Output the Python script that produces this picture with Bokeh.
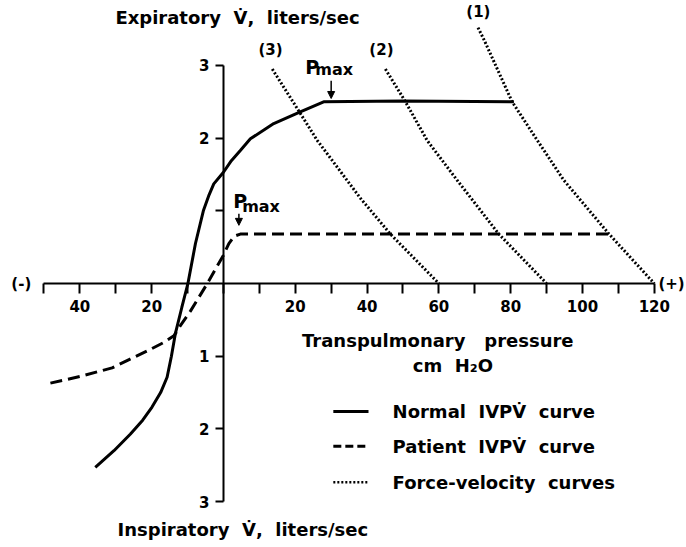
from bokeh.plotting import figure
from bokeh.models import Range1d, LinearAxis, FixedTicker, Arrow, NormalHead, ColumnDataSource
from bokeh.core.properties import value
from bokeh.embed import file_html
from bokeh.resources import INLINE

# ---------------- data (pressure cm H2O, flow l/s; expiratory +) ----------------
normal_p = [-35.7, -30.5, -25.9, -22.5, -19.9, -17.5, -15.7, -14.5, -13.4, -11.6, -9.9, -7.8, -5.6, -4.0,
            -2.7, 0.0, 2.2, 4.7, 7.5, 14.0, 21.4, 27.9, 50.0, 80.9]
normal_v = [-2.53, -2.30, -2.07, -1.88, -1.70, -1.50, -1.29, -1.00, -0.69, -0.33, 0.0, 0.55, 1.00, 1.22,
            1.37, 1.53, 1.69, 1.83, 1.99, 2.20, 2.36, 2.50, 2.51, 2.50]

patient_p = [-48.2, -40.0, -31.0, -26.0, -21.3, -16.6, -13.8, -12.0, -9.2, -4.5, 0.0, 1.5, 3.0, 4.7, 107.4]
patient_v = [-1.37, -1.28, -1.16, -1.04, -0.93, -0.81, -0.72, -0.58, -0.38, 0.0, 0.39, 0.55, 0.65, 0.68, 0.68]

fv1_p = [70.9, 72.7, 80.4, 87.4, 94.8, 107.4, 120.0]
fv1_v = [3.52, 3.34, 2.50, 1.97, 1.42, 0.68, 0.0]
fv2_p = [45.1, 50.7, 56.7, 65.1, 76.7, 90.0]
fv2_v = [2.95, 2.50, 1.97, 1.42, 0.68, 0.0]
fv3_p = [13.6, 20.9, 26.1, 38.2, 46.5, 60.0]
fv3_v = [2.95, 2.38, 1.97, 1.17, 0.68, 0.0]

x_ticks = list(range(-50, 121, 10))
x_tick_labels = {-40: "40", -20: "20", 20: "20", 40: "40", 60: "60", 80: "80", 100: "100", 120: "120"}
y_ticks = [-3, -2, -1, 1, 2, 3]
y_tick_labels = ["3", "2", "1", "", "2", "3"]

curve_labels = ["(1)", "(2)", "(3)"]
curve_label_p = [71.0, 44.0, 13.1]
curve_label_v = [3.74, 3.21, 3.21]

pmax_p_letter = [22.8, 2.7]
pmax_sub_p = [25.6, 5.2]
pmax_letter_v = [2.975, 1.135]
pmax_sub_v = [2.937, 1.053]
pmax_arrow_p = [30.0, 4.3]
pmax_arrow_from = [2.79, 0.96]
pmax_arrow_to = [2.545, 0.80]

NB = "\u00a0"
legend_names = ["Normal" + NB * 2 + "IVPV\u0307" + NB * 2 + "curve",
                "Patient" + NB * 2 + "IVPV\u0307" + NB * 2 + "curve",
                "Force-velocity" + NB * 2 + "curves"]
legend_line_p0 = [30.6, 30.6, 30.6]
legend_line_p1 = [40.4, 40.4, 40.4]
legend_line_v = [-1.761, -2.238, -2.733]
legend_text_p = [47.1, 47.1, 47.1]
legend_text_v = [-1.767, -2.245, -2.74]

FONT = value("DejaVu Sans")

# the canvas starts at the page's top-left corner
p = figure(width=686, height=541, x_range=Range1d(-62.1, 128.97), y_range=Range1d(-3.549, 3.893),
           output_backend="svg", toolbar_location=None, x_axis_location=None, y_axis_location=None,
           min_border=0, outline_line_color=None, background_fill_color="white",
           border_fill_color="white")
p.grid.visible = False
for r in list(p.center):
    r.visible = False

# axes crossing at the origin
xaxis = LinearAxis(fixed_location=0, bounds=(-50, 120), ticker=FixedTicker(ticks=x_ticks),
                   major_label_overrides={t: x_tick_labels.get(t, "") for t in x_ticks},
                   major_tick_out=10, major_tick_in=0, minor_tick_out=0, minor_tick_in=0,
                   axis_line_width=2, major_tick_line_width=2, axis_line_color="black",
                   major_label_text_font="DejaVu Sans", major_label_text_font_size="15px",
                   major_label_text_font_style="bold", major_label_standoff=6,
                   major_label_text_color="black")
p.add_layout(xaxis, "below")
yaxis = LinearAxis(fixed_location=0, bounds=(-3, 3), ticker=FixedTicker(ticks=y_ticks),
                   major_label_overrides=dict(zip(y_ticks, y_tick_labels)),
                   major_tick_out=8, major_tick_in=0, minor_tick_out=0, minor_tick_in=0,
                   axis_line_width=2, major_tick_line_width=2, axis_line_color="black",
                   major_label_text_font="DejaVu Sans", major_label_text_font_size="15px",
                   major_label_text_font_style="bold", major_label_standoff=6,
                   major_label_text_color="black")
p.add_layout(yaxis, "left")

# curves
p.line(normal_p, normal_v, line_color="black", line_width=3)
p.line(patient_p, patient_v, line_color="black", line_width=3, line_dash="12 6")
for fp, fv in ((fv1_p, fv1_v), (fv2_p, fv2_v), (fv3_p, fv3_v)):
    p.line(fp, fv, line_color="black", line_width=3, line_dash="2 2")

TXT = dict(text_font=FONT, text_font_style="bold", text_color="black")

# curve labels
p.text(curve_label_p, curve_label_v, text=curve_labels, text_font_size="15px",
       text_align="center", text_baseline="alphabetic", **TXT)

# Pmax labels + arrows
p.text(pmax_p_letter, pmax_letter_v, text=["P", "P"], text_font_size="19px",
       text_align="left", text_baseline="alphabetic", **TXT)
p.text(pmax_sub_p, pmax_sub_v, text=["max", "max"], text_font_size="16px",
       text_align="left", text_baseline="alphabetic", **TXT)
arrow_src = ColumnDataSource(dict(x0=pmax_arrow_p, y0=pmax_arrow_from, x1=pmax_arrow_p, y1=pmax_arrow_to))
p.add_layout(Arrow(source=arrow_src, x_start="x0", y_start="y0", x_end="x1", y_end="y1",
                   line_width=1.5, line_color="black",
                   end=NormalHead(size=7, fill_color="black", line_color="black")))

# axis texts
p.text([-56.3], [0], text=["(-)"], text_font_size="15px",
       text_align="center", text_baseline="middle", **TXT)
p.text([124.8], [0], text=["(+)"], text_font_size="15px",
       text_align="center", text_baseline="middle", **TXT)
p.text([-30.1], [3.653], text=["Expiratory" + NB * 2 + "V\u0307," + NB * 2 + "liters/sec"],
       text_font_size="18px", text_align="left", text_baseline="alphabetic", **TXT)
p.text([-29.5], [-3.384], text=["Inspiratory" + NB * 2 + "V\u0307," + NB * 2 + "liters/sec"],
       text_font_size="18px", text_align="left", text_baseline="alphabetic", **TXT)
p.text([59.7], [-0.79], text=["Transpulmonary" + NB * 3 + "pressure"], text_font_size="18px",
       text_align="center", text_baseline="alphabetic", **TXT)
p.text([63.9], [-1.13], text=["cm" + NB * 2 + "H\u2082O"], text_font_size="18px",
       text_align="center", text_baseline="alphabetic", **TXT)

# legend (drawn by hand, as in the original)
p.segment(x0=legend_line_p0[:1], y0=legend_line_v[:1], x1=legend_line_p1[:1], y1=legend_line_v[:1],
          line_color="black", line_width=3)
p.segment(x0=legend_line_p0[1:2], y0=legend_line_v[1:2], x1=legend_line_p1[1:2], y1=legend_line_v[1:2],
          line_color="black", line_width=3, line_dash="8 4")
p.segment(x0=legend_line_p0[2:], y0=legend_line_v[2:], x1=legend_line_p1[2:], y1=legend_line_v[2:],
          line_color="black", line_width=2.5, line_dash="2 2")
p.text(legend_text_p, legend_text_v, text=legend_names, text_font_size="18px",
       text_align="left", text_baseline="alphabetic", **TXT)

open("out.html", "w").write(file_html(p, INLINE))
